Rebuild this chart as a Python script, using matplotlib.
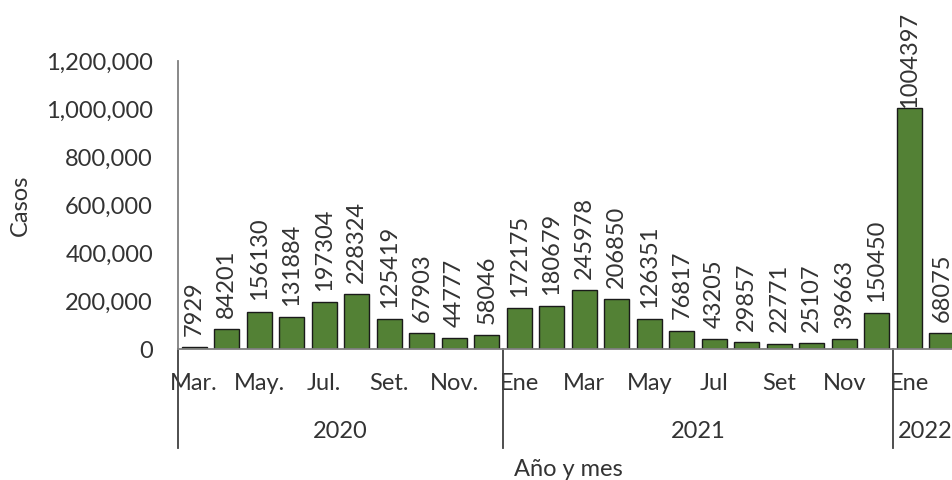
import numpy as np
import matplotlib
matplotlib.use("Agg")
import matplotlib.pyplot as plt
import matplotlib.transforms as mtransforms
from matplotlib.ticker import FuncFormatter

plt.rcParams['font.family'] = ['Lato', 'DejaVu Sans']

# casos por mes, marzo 2020 a febrero 2022
meses = ['Mar.', '', 'May.', '', 'Jul.', '', 'Set.', '', 'Nov.', '',
         'Ene', '', 'Mar', '', 'May', '', 'Jul', '', 'Set', '', 'Nov', '',
         'Ene', '']
casos = [7929, 84201, 156130, 131884, 197304, 228324, 125419, 67903, 44777, 58046,
         172175, 180679, 245978, 206850, 126351, 76817, 43205, 29857, 22771, 25107,
         39663, 150450,
         1004397, 68075]
anios = ['2020', '2021', '2022']
meses_por_anio = [10, 12, 2]

verde = '#538135'
texto = '#333333'
gris = '#7f7f7f'
fs = 17

fig = plt.figure(figsize=(9.52, 4.8), dpi=100)
ax = fig.add_axes([178 / 952, 131 / 480, 780 / 952, 288 / 480])

x = np.arange(len(casos))
barras = ax.bar(x, casos, width=0.78, color=verde, edgecolor='#1a1a1a', linewidth=1.0)

# etiquetas de valor sobre cada barra
for xi, v in zip(x, casos):
    pad = 0 if v == max(casos) else 8
    ax.annotate(str(v), (xi, v), xytext=(0, pad), textcoords='offset points',
                rotation=90, ha='center', va='bottom', fontsize=fs, color=texto,
                annotation_clip=False)

ax.set_xlim(-0.5, len(casos) - 0.5)
ax.set_ylim(0, 1200000)
ax.set_yticks(np.arange(0, 1200001, 200000))
ax.yaxis.set_major_formatter(FuncFormatter(lambda v, p: f'{v:,.0f}'))
ax.tick_params(axis='y', length=0, pad=18, labelsize=fs, labelcolor=texto)

ax.set_xticks(x)
ax.set_xticklabels(meses)
ax.tick_params(axis='x', length=0, pad=17, labelsize=fs, labelcolor=texto)

for s in ['top', 'right']:
    ax.spines[s].set_visible(False)
ax.spines['left'].set_color(gris)
ax.spines['left'].set_linewidth(1.3)
ax.spines['bottom'].set_color(gris)
ax.spines['bottom'].set_linewidth(1.3)

# separadores y rótulos de año bajo el eje
trans = mtransforms.blended_transform_factory(ax.transData, ax.transAxes)
inicio = -0.5
for anio, n in zip(anios, meses_por_anio):
    ax.plot([inicio, inicio], [0, -0.344], transform=trans, color='#404040',
            linewidth=1.3, clip_on=False)
    ax.text(inicio + n / 2, -0.288, anio, transform=trans, ha='center', va='center',
            fontsize=fs, color=texto)
    inicio += n

ax.text(0.5, -0.42, 'Año y mes', transform=ax.transAxes, ha='center', va='center',
        fontsize=fs, color=texto)
ax.set_ylabel('Casos', fontsize=fs, color=texto)
ax.yaxis.set_label_coords(-(178 - 31) / 780, 0.5)

fig.savefig('out.png', dpi=100)
